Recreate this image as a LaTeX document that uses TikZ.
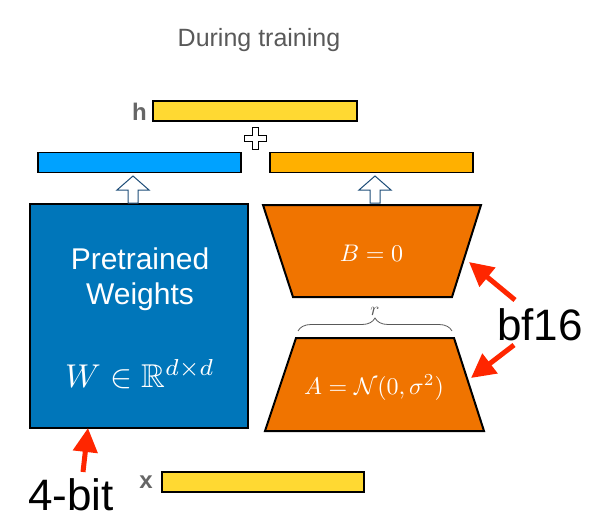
\documentclass[tikz,border=0pt]{standalone}
\usepackage{amssymb}
\usepackage{fontspec}
\setsansfont{Liberation Sans}
\usetikzlibrary{arrows.meta,decorations.pathreplacing}

\definecolor{hyellow}{HTML}{FFD932}
\definecolor{barblue}{HTML}{00A2FF}
\definecolor{barorange}{HTML}{FFB000}
\definecolor{wblue}{HTML}{0076BA}
\definecolor{lorange}{HTML}{F07400}
\definecolor{redtip}{HTML}{FF2600}
\definecolor{txtgray}{HTML}{595959}
\definecolor{lblgray}{HTML}{666666}
\definecolor{arrblue}{HTML}{1F4E79}

\begin{document}
\begin{tikzpicture}[x=1pt,y=-1pt,
    bar/.style={draw,line width=1.2pt,minimum width=203pt,minimum
        height=20pt,inner sep=0pt},
    trap/.style={draw,line width=2pt,fill=lorange,line join=miter},
    lbl/.style={inner sep=0pt,text=lblgray,font=\sffamily\bfseries\fontsize{24}{24}\selectfont},
    big/.style={inner sep=0pt,font=\sffamily\fontsize{44}{44}\selectfont},
    redarrow/.style={draw=redtip,line width=5pt,-{Triangle[length=24pt,width=24pt]}},
    uparr/.pic={\draw[draw=arrblue,line width=1pt,fill=white,line join=miter]
        (-5,0) -- (-5,-13) -- (-16,-13) -- (0,-27) -- (16,-13) -- (5,-13) -- (5,0) -- cycle;}]

    \useasboundingbox (0,0) rectangle (591,524);

    % the texts

    \node[text=txtgray,font=\sffamily\fontsize{25}{25}\selectfont] (title) at (259,40) {During training};

    % the bars

    \node[bar,fill=hyellow,minimum width=204pt] (h) at (255,111) {};
    \node[lbl,anchor=base east] (hlbl) at (147,121) {h};
    \node[bar,fill=barblue] (wout) at (139.5,162.5) {};
    \node[bar,fill=barorange] (bout) at (371.5,162.5) {};
    \node[bar,fill=hyellow,minimum width=202pt] (x) at (263,482) {};
    \node[lbl,anchor=base east] (xlbl) at (153,488) {x};

    % the plus
    \draw[line width=1pt,fill=white] (252,127) -- (258,127) -- (258,135) --
    (266,135) -- (266,141) -- (258,141) -- (258,149) -- (252,149) --
    (252,141) -- (244,141) -- (244,135) -- (252,135) -- cycle;

    % the weights

    \node[draw,line width=2pt,fill=wblue,minimum width=218pt,minimum
        height=224pt] (W) at (139,316) {};
    \node[text=white,align=center,font=\sffamily\fontsize{30}{35}\selectfont]
        (wtxt) at (140,279) {Pretrained\\Weights};
    \node[text=white,scale=3.3,anchor=base] (wmath) at (140,387) {$W\in\mathbb{R}^{d\times d}$};

    % the low rank parts

    \draw[trap] (263,205) -- (481,205) -- (452,297) -- (293,297) -- cycle;
    \node[text=white,scale=2.4,anchor=base] (B) at (371.5,261) {$B=0$};
    \draw[trap] (296,338) -- (454,338) -- (484,431) -- (265,431) -- cycle;
    \node[text=white,scale=2.4,anchor=base] (A) at (374,394) {$A=\mathcal{N}(0,\sigma^2)$};

    \draw[draw=txtgray,line width=0.8pt,decorate,decoration={brace,amplitude=13pt}]
        (298,331) -- (452,331);
    \node[text=txtgray,scale=1.9] (r) at (375,311) {$r$};

    \pic at (133,203) {uparr};
    \pic at (375,203) {uparr};

    % the notes

    \node[big,anchor=base west] (bf) at (497,340) {bf16};
    \node[big,anchor=base west] (fourbit) at (28,510) {4-bit};

    \coordinate (tailB) at (515,300);
    \coordinate (tipB) at (469,262);
    \coordinate (tailA) at (514,345);
    \coordinate (tipA) at (471,378);
    \coordinate (tailW) at (83,472);
    \coordinate (tipW) at (88,428);

    \draw[redarrow] (tailB) -- (tipB);
    \draw[redarrow] (tailA) -- (tipA);
    \draw[redarrow] (tailW) -- (tipW);
  \end{tikzpicture}
\end{document}
